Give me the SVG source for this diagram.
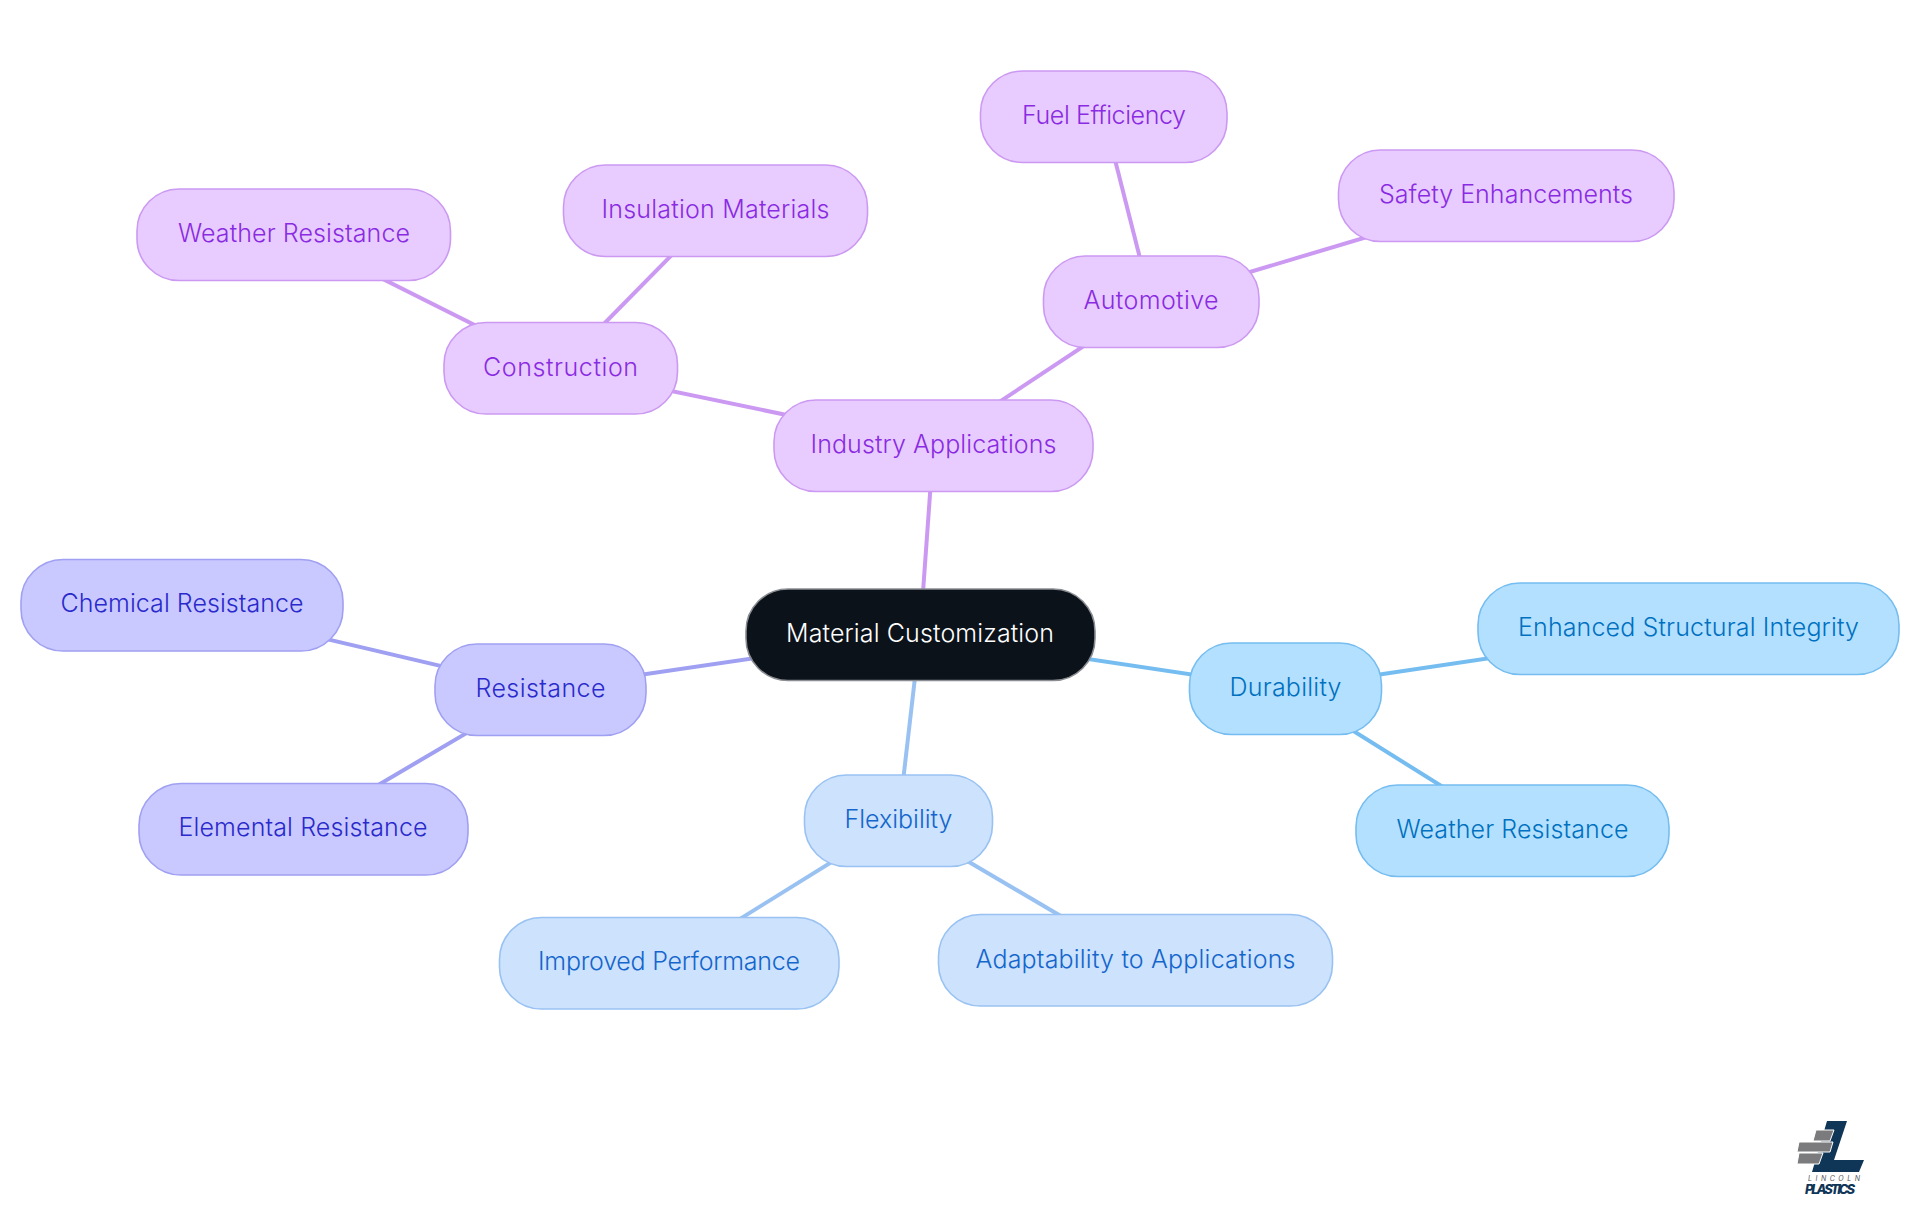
<svg xmlns="http://www.w3.org/2000/svg" width="1920" height="1215" viewBox="0 0 1920 1215">
<style>
text{font-family:"Inter","Noto Sans","Liberation Sans",sans-serif;font-size:25px;font-weight:350;text-anchor:middle;dominant-baseline:central}
.c{stroke-width:4;fill:none;stroke-linecap:butt}
.n{stroke-width:1.6}
.p rect{fill:#e8ccff;stroke:#cc99f2}.p text{fill:#8a2be2}
.b rect{fill:#cce2fd;stroke:#99c2f2}.b text{fill:#1466cc}
.s rect{fill:#b3e0ff;stroke:#75bdf0}.s text{fill:#0070c0}
.i rect{fill:#c9c9ff;stroke:#a0a0f2}.i text{fill:#2a2acc}
.lp{stroke:#cc99f2}.lb{stroke:#99c2f2}.ls{stroke:#75bdf0}.li{stroke:#a0a0f2}
</style>
<g id="connectors" class="c">
<path class="lp" d="M920 634L933.500 445.500"/><path class="lp" d="M933.500 445.500L1151 301.500"/><path class="lp" d="M933.500 445.500L560.500 368"/>
<path class="lp" d="M1151 301.500L1104 116.500"/><path class="lp" d="M1151 301.500L1506 195.500"/><path class="lp" d="M560.500 368L715.500 210.500"/><path class="lp" d="M560.500 368L294 234.500"/>
<path class="li" d="M920 634L540.500 689.500"/><path class="li" d="M540.500 689.500L182 605"/><path class="li" d="M540.500 689.500L303.500 829"/>
<path class="lb" d="M920 634L898.500 820.500"/><path class="lb" d="M898.500 820.500L669 963"/><path class="lb" d="M898.500 820.500L1135.500 960"/>
<path class="ls" d="M920 634L1285.500 688.500"/><path class="ls" d="M1285.500 688.500L1688.500 628.500"/><path class="ls" d="M1285.500 688.500L1512.500 830.500"/>
</g>
<g id="center"><rect x="746" y="589" width="349" height="91.500" rx="42" fill="#0c121a" stroke="#8a8d92" stroke-width="1.600"/><text x="920" y="633" fill="#fff" textLength="268">Material Customization</text></g>
<g id="industry" class="p"><rect class="n" x="774" y="400" width="319" height="91.500" rx="42"/><text x="933.500" y="444" textLength="246">Industry Applications</text></g>
<g id="automotive" class="p"><rect class="n" x="1043.500" y="256" width="215.500" height="91.500" rx="42"/><text x="1151" y="300" textLength="135">Automotive</text></g>
<g id="fuel" class="p"><rect class="n" x="980.500" y="71" width="246.500" height="91.500" rx="42"/><text x="1104" y="115" textLength="164">Fuel Efficiency</text></g>
<g id="safety" class="p"><rect class="n" x="1338.500" y="150" width="335.500" height="91.500" rx="42"/><text x="1506" y="194" textLength="254">Safety Enhancements</text></g>
<g id="construction" class="p"><rect class="n" x="444" y="322.500" width="233.500" height="91.500" rx="42"/><text x="560.500" y="367" textLength="155">Construction</text></g>
<g id="weather-c" class="p"><rect class="n" x="137" y="189" width="313.500" height="91.500" rx="42"/><text x="294" y="233" textLength="232">Weather Resistance</text></g>
<g id="insulation" class="p"><rect class="n" x="563.500" y="165" width="304" height="91.500" rx="42"/><text x="715.500" y="209" textLength="228">Insulation Materials</text></g>
<g id="resistance" class="i"><rect class="n" x="435" y="644" width="211" height="91.500" rx="42"/><text x="540.500" y="688" textLength="130">Resistance</text></g>
<g id="chemical" class="i"><rect class="n" x="21" y="559.500" width="322" height="91.500" rx="42"/><text x="182" y="603" textLength="243">Chemical Resistance</text></g>
<g id="elemental" class="i"><rect class="n" x="139" y="783.500" width="329" height="91.500" rx="42"/><text x="303" y="827" textLength="249">Elemental Resistance</text></g>
<g id="flexibility" class="b"><rect class="n" x="804.500" y="775" width="188" height="91.500" rx="42"/><text x="898.500" y="819" textLength="108">Flexibility</text></g>
<g id="improved" class="b"><rect class="n" x="499.500" y="917.500" width="339.500" height="91.500" rx="42"/><text x="669" y="961" textLength="262">Improved Performance</text></g>
<g id="adaptability" class="b"><rect class="n" x="938.500" y="914.500" width="394" height="91.500" rx="42"/><text x="1135.500" y="959" textLength="320">Adaptability to Applications</text></g>
<g id="durability" class="s"><rect class="n" x="1189.500" y="643" width="192" height="91.500" rx="42"/><text x="1285.500" y="687" textLength="112">Durability</text></g>
<g id="enhanced" class="s"><rect class="n" x="1478" y="583" width="421" height="91.500" rx="42"/><text x="1688.500" y="627" textLength="341">Enhanced Structural Integrity</text></g>
<g id="weather-d" class="s"><rect class="n" x="1356" y="785" width="313" height="91.500" rx="42"/><text x="1512.500" y="829" textLength="232">Weather Resistance</text></g>
<g id="logo">
<path d="M1827 1121H1847L1834 1160H1864L1859 1172H1812Z" fill="#0f3557"/>
<path d="M1816 1130H1834L1830 1141H1813Z M1799 1142H1833L1830 1152H1797Z M1799 1153H1823L1819 1164H1797Z" fill="#7b7b7d" stroke="#fff" stroke-width="1"/>
<text x="1834" y="1178" style="font-size:7px;font-weight:400;font-style:italic" textLength="52" fill="#555">LINCOLN</text>
<text x="1830" y="1189" style="font-size:13px;font-weight:800;font-style:italic" textLength="50" fill="#0f3557">PLASTICS</text>
</g>
</svg>
